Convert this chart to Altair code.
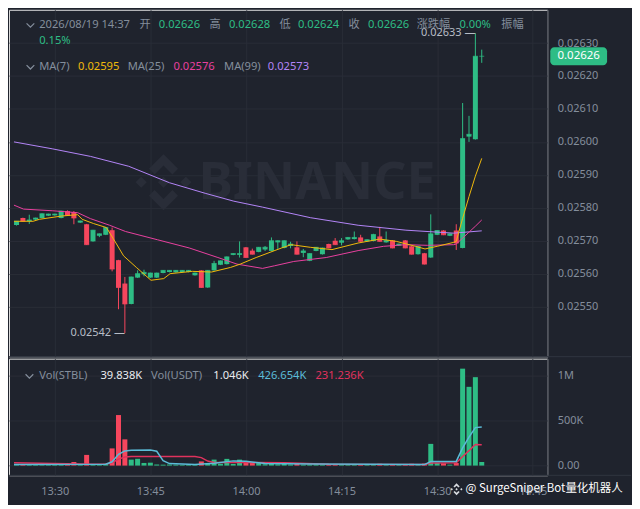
import altair as alt
import pandas as pd

# ---------------- data ----------------
times = ["13:24", "13:25", "13:26", "13:27", "13:28", "13:29", "13:30", "13:31", "13:32", "13:33",
         "13:34", "13:35", "13:36", "13:37", "13:38", "13:39", "13:40", "13:41", "13:42", "13:43",
         "13:44", "13:45", "13:46", "13:47", "13:48", "13:49", "13:50", "13:51", "13:52", "13:53",
         "13:54", "13:55", "13:56", "13:57", "13:58", "13:59", "14:00", "14:01", "14:02", "14:03",
         "14:04", "14:05", "14:06", "14:07", "14:08", "14:09", "14:10", "14:11", "14:12", "14:13",
         "14:14", "14:15", "14:16", "14:17", "14:18", "14:19", "14:20", "14:21", "14:22", "14:23",
         "14:24", "14:25", "14:26", "14:27", "14:28", "14:29", "14:30", "14:31", "14:32", "14:33",
         "14:34", "14:35", "14:36", "14:37"]

# prices in units of 1e-5
open_e5 = [2574.8, 2576.9, 2575.9, 2576.4, 2576.9, 2577.6, 2577.7, 2576.9, 2579.0, 2578.7,
           2575.5, 2575.0, 2569.8, 2571.5, 2571.8, 2573.2, 2564.1, 2557.0, 2550.8, 2558.8,
           2559.8, 2558.8, 2558.8, 2560.2, 2560.5, 2560.4, 2560.5, 2560.5, 2559.5, 2561.0,
           2555.8, 2561.0, 2562.7, 2562.9, 2565.7, 2565.7, 2568.0, 2567.0, 2566.6, 2567.3,
           2566.9, 2569.5, 2567.8, 2568.4, 2568.0, 2566.3, 2563.9, 2566.9, 2565.9, 2569.0,
           2570.0, 2569.4, 2570.4, 2570.5, 2571.0, 2569.8, 2569.9, 2571.3, 2569.5, 2570.1,
           2568.5, 2570.1, 2568.3, 2565.9, 2566.2, 2564.9, 2571.8, 2573.1, 2571.5, 2573.1,
           2567.8, 2601.6, 2600.8, 2626.0]
high_e5 = [2576.0, 2577.0, 2577.9, 2577.0, 2578.3, 2578.2, 2578.2, 2579.1, 2579.2, 2579.0,
           2576.1, 2575.1, 2573.3, 2572.2, 2574.1, 2574.0, 2564.2, 2559.0, 2559.1, 2561.0,
           2561.2, 2560.3, 2560.3, 2561.1, 2561.1, 2561.1, 2561.1, 2561.1, 2560.3, 2561.1,
           2561.1, 2563.9, 2564.0, 2565.2, 2566.2, 2569.8, 2568.1, 2567.6, 2568.1, 2568.4,
           2571.0, 2570.1, 2570.1, 2569.7, 2569.8, 2567.5, 2566.2, 2568.1, 2567.9, 2569.1,
           2570.8, 2570.8, 2571.1, 2572.8, 2571.8, 2570.4, 2572.1, 2574.2, 2572.8, 2570.2,
           2569.1, 2570.2, 2568.4, 2568.4, 2566.3, 2578.0, 2573.2, 2573.2, 2572.2, 2575.0,
           2611.8, 2607.9, 2633.0, 2628.0]
low_e5 = [2574.6, 2575.8, 2575.1, 2576.3, 2576.8, 2577.5, 2577.6, 2576.8, 2577.6, 2575.0,
          2575.4, 2568.7, 2569.7, 2571.1, 2571.7, 2560.7, 2549.2, 2542.0, 2550.7, 2558.7,
          2559.2, 2558.7, 2558.7, 2560.1, 2560.4, 2560.3, 2560.4, 2560.4, 2559.4, 2555.7,
          2555.7, 2560.9, 2562.6, 2562.8, 2565.6, 2564.9, 2564.8, 2565.8, 2566.5, 2566.9,
          2566.8, 2567.5, 2567.7, 2567.7, 2565.8, 2565.0, 2563.8, 2566.8, 2565.8, 2567.7,
          2568.7, 2568.6, 2570.3, 2570.4, 2569.7, 2569.7, 2569.8, 2569.7, 2569.4, 2567.7,
          2568.4, 2567.7, 2565.8, 2565.8, 2562.8, 2564.8, 2571.7, 2571.7, 2571.4, 2567.2,
          2567.7, 2600.0, 2600.7, 2624.0]
close_e5 = [2575.9, 2575.9, 2576.3, 2576.9, 2578.2, 2578.1, 2578.1, 2579.0, 2577.7, 2576.9,
            2576.0, 2568.8, 2573.2, 2572.1, 2574.0, 2561.4, 2555.8, 2550.8, 2559.0, 2560.0,
            2560.4, 2560.2, 2560.2, 2561.0, 2561.0, 2561.0, 2561.0, 2561.0, 2560.2, 2555.8,
            2561.0, 2563.1, 2563.9, 2565.1, 2566.1, 2566.1, 2564.9, 2565.9, 2568.0, 2568.0,
            2570.0, 2570.0, 2570.0, 2569.0, 2565.9, 2566.9, 2566.1, 2568.0, 2567.8, 2567.8,
            2568.8, 2570.0, 2571.0, 2571.0, 2569.8, 2570.3, 2571.9, 2569.8, 2570.1, 2567.8,
            2569.0, 2567.8, 2565.9, 2568.3, 2562.9, 2572.1, 2573.1, 2571.8, 2572.1, 2569.3,
            2601.0, 2602.3, 2626.0, 2626.0]
# volume in thousands (STBL)
vol_k = [12, 15, 10, 8, 12, 6, 8, 14, 12, 40,
         10, 118, 14, 12, 20, 190, 559, 290, 66, 75,
         29, 32, 12, 10, 12, 10, 8, 10, 8, 46,
         20, 66, 20, 74, 18, 66, 32, 28, 40, 15,
         30, 14, 18, 12, 20, 10, 12, 14, 10, 12,
         18, 10, 8, 10, 14, 8, 12, 20, 10, 14,
         8, 18, 20, 14, 22, 240, 30, 25, 10, 28,
         1072, 871, 978, 39.838]

# moving-average lines (minutes after 13:00, value)
ma7_t = [23.6, 26.6, 27.6, 31.1, 33.6, 34.3, 36.1, 38.1, 39.6, 40.8, 42.8, 45.1, 47.1, 48.1, 51.6,
         54.6, 57.6, 59.1, 61.6, 65.6, 67.1, 70.1, 73.5, 77.6, 81.0, 83.6, 86.6, 88.1, 90.0, 92.6,
         93, 94, 95, 96, 97]
ma7_e5 = [2575.9, 2575.9, 2576.5, 2577.5, 2577.9, 2576.5, 2575.2, 2574.0, 2569.3, 2565.4, 2561.9,
          2558.0, 2558.5, 2560.0, 2560.7, 2560.5, 2561.9, 2562.9, 2564.9, 2567.8, 2568.8, 2568.0,
          2567.3, 2569.3, 2570.5, 2569.8, 2568.3, 2567.5, 2568.3, 2569.5, 2569.8, 2576.8, 2583.4,
          2589.6, 2595.0]
ma25_t = [23.6, 25.1, 29.6, 33.6, 35.6, 38.6, 41.1, 46.1, 51.1, 55.6, 58.6, 62.6, 64.5, 67.5, 72.6,
          77.6, 81.6, 85.1, 88.5, 92.6, 93, 94, 95, 96, 97]
ma25_e5 = [2580.8, 2579.6, 2579.1, 2578.5, 2576.7, 2574.7, 2572.8, 2570.3, 2567.8, 2564.9, 2562.9,
           2561.6, 2562.4, 2563.7, 2564.9, 2567.0, 2568.3, 2568.8, 2568.6, 2568.8, 2569.0, 2570.8,
           2572.6, 2574.4, 2576.3]
ma99_t = [23.6, 29.6, 35.6, 41.6, 48.0, 53.6, 58.1, 62.6, 70.1, 77.6, 85.1, 92.6, 97]
ma99_e5 = [2600.0, 2597.9, 2595.6, 2592.6, 2587.6, 2584.4, 2582.0, 2580.2, 2577.0, 2574.7, 2573.2,
           2572.3, 2573.0]
vma7_t = [23.6, 38, 39, 40, 41, 42, 45, 46, 47, 48, 52, 55, 58, 60, 63, 70, 80, 88, 89, 93, 94, 95, 96, 97]
vma7_k = [11, 15, 42, 125, 162, 170, 172, 158, 55, 22, 11, 25, 52, 48, 22, 18, 14, 11, 45, 46, 195,
          315, 420, 426.654]
vma14_t = [23.6, 36, 38, 39, 40, 41, 42, 52, 53, 54, 55, 66, 73, 88, 89, 93, 94, 95, 96, 97]
vma14_k = [32, 14, 18, 32, 72, 95, 100, 100, 88, 50, 35, 32, 16, 11, 28, 30, 100, 165, 234, 231.236]

x_ticks = [30, 45, 60, 75, 90, 105]
price_ticks = [0.0255, 0.0256, 0.0257, 0.0258, 0.0259, 0.0260, 0.0261, 0.0262, 0.0263]
vol_ticks = [0, 500000, 1000000]

# ---------------- style ----------------
BG = "#1f232d"
GRID = "#292d37"
SEP = "#30353f"
AX = "#848e9c"
GREEN = "#2ebd85"
RED = "#f6465d"
WHITE = "#eaecef"
MA7C, MA25C, MA99C = "#f0b90b", "#e8409f", "#b385f7"
VMA7C, VMA14C = "#5bbcd8", "#e0325d"
WM = "#292d38"
FONT = "Noto Sans"
CJK = "Noto Sans CJK SC"

W, H1, H2 = 540, 348, 117


def tmin(s):
    h, m = s.split(":")
    return (int(h) - 13) * 60 + int(m)


candles = pd.DataFrame({
    "t": [tmin(s) for s in times],
    "open": [v / 1e5 for v in open_e5],
    "high": [v / 1e5 for v in high_e5],
    "low": [v / 1e5 for v in low_e5],
    "close": [v / 1e5 for v in close_e5],
    "vol": [v * 1000 for v in vol_k],
})
candles["dir"] = ["up" if c >= o else "down" for o, c in zip(open_e5, close_e5)]

ma_df = lambda ts, vs: pd.DataFrame({"t": ts, "v": [v / 1e5 for v in vs]})
vma_df = lambda ts, vs: pd.DataFrame({"t": ts, "v": [v * 1000 for v in vs]})

xsc = alt.Scale(domain=[23.6, 106.5], nice=False, zero=False)
psc = alt.Scale(domain=[0.025348, 0.026401], nice=False, zero=False)
vsc = alt.Scale(domain=[-107500, 1182500], nice=False, zero=False)
col = alt.Color("dir:N", scale=alt.Scale(domain=["up", "down"], range=[GREEN, RED]), legend=None)

x_top_axis = alt.Axis(values=x_ticks, labels=False, ticks=False, domain=True, domainColor=SEP,
                      grid=True, gridColor=GRID, minExtent=0, maxExtent=0)
x_bot_axis = alt.Axis(values=x_ticks, ticks=False, domain=True, domainColor=SEP, grid=True, gridColor=GRID,
                      labelColor=AX, labelFontSize=11, labelFont=FONT, labelPadding=10,
                      labelExpr="(13 + floor(datum.value / 60)) + ':' + (datum.value % 60 < 10 ? '0' : '') + (datum.value % 60)",
                      minExtent=28, maxExtent=28)
y_price_axis = alt.Axis(orient="right", values=price_ticks, format=".5f", labelColor=AX, labelFontSize=11,
                        labelFont=FONT, labelPadding=10, ticks=False, domain=True, domainColor=SEP,
                        grid=True, gridColor=GRID, minExtent=84, maxExtent=84)
y_vol_axis = alt.Axis(orient="right", values=vol_ticks, labelColor=AX, labelFontSize=11, labelFont=FONT,
                      labelPadding=10, ticks=False, domain=True, domainColor=SEP, grid=True, gridColor=GRID,
                      labelExpr="datum.value == 0 ? '0.00' : (datum.value >= 1000000 ? '1M' : '500K')",
                      minExtent=84, maxExtent=84)


def xt(field="t"):
    return alt.X(f"{field}:Q", scale=xsc, axis=x_top_axis, title=None)


def xb(field="t"):
    return alt.X(f"{field}:Q", scale=xsc, axis=x_bot_axis, title=None)


def yp(field):
    return alt.Y(f"{field}:Q", scale=psc, axis=y_price_axis, title=None)


def yv(field):
    return alt.Y(f"{field}:Q", scale=vsc, axis=y_vol_axis, title=None)


dummy = pd.DataFrame({"k": [0]})


def label(s, x, y, color, size=11.2, font=FONT, align="left", weight="normal"):
    return alt.Chart(dummy).mark_text(text=s, align=align, baseline="middle", color=color, fontSize=size,
                                      font=font, fontWeight=weight).encode(x=alt.value(x), y=alt.value(y))


def chevron(x, y):
    return alt.Chart(dummy).mark_point(shape="M-1,-0.5L0,0.5L1,-0.5", filled=False, size=60, stroke=AX,
                                       strokeWidth=1.2, opacity=1).encode(x=alt.value(x), y=alt.value(y))


LOGO = ("M0,-1L0.52,-0.48L0.32,-0.28L0,-0.6L-0.32,-0.28L-0.52,-0.48Z "
        "M0,1L0.52,0.48L0.32,0.28L0,0.6L-0.32,0.28L-0.52,0.48Z "
        "M-1,0L-0.8,-0.2L-0.6,0L-0.8,0.2Z M1,0L0.8,-0.2L0.6,0L0.8,0.2Z "
        "M0,-0.2L0.2,0L0,0.2L-0.2,0Z")


def logo(x, y, size, color):
    return alt.Chart(dummy).mark_point(shape=LOGO, filled=True, size=size, color=color, opacity=1,
                                       strokeWidth=0).encode(x=alt.value(x), y=alt.value(y))


TAG = ("M-0.86,-0.32L0.86,-0.32A0.14,0.14 0 0 1 1,-0.18L1,0.18A0.14,0.14 0 0 1 0.86,0.32"
       "L-0.86,0.32A0.14,0.14 0 0 1 -1,0.18L-1,-0.18A0.14,0.14 0 0 1 -0.86,-0.32Z")

# ---------------- price panel ----------------
base = alt.Chart(candles)
wicks = base.mark_rule(strokeWidth=1).encode(x=xt(), y=yp("low"), y2=alt.Y2("high:Q"), color=col)
bodies = base.mark_bar(size=5).encode(x=xt(), y=yp("open"), y2=alt.Y2("close:Q"), color=col)
flat = base.mark_tick(orient="horizontal", thickness=1, size=5).encode(x=xt(), y=yp("close"), color=col)

ma7 = alt.Chart(ma_df(ma7_t, ma7_e5)).mark_line(color=MA7C, strokeWidth=1).encode(x=xt(), y=yp("v"))
ma25 = alt.Chart(ma_df(ma25_t, ma25_e5)).mark_line(color=MA25C, strokeWidth=1).encode(x=xt(), y=yp("v"))
ma99 = alt.Chart(ma_df(ma99_t, ma99_e5)).mark_line(color=MA99C, strokeWidth=1).encode(x=xt(), y=yp("v"))

hi_i = high_e5.index(max(high_e5))
lo_i = low_e5.index(min(low_e5))
extremes = pd.DataFrame({
    "t": [tmin(times[hi_i]), tmin(times[lo_i])],
    "p": [high_e5[hi_i] / 1e5, low_e5[lo_i] / 1e5],
})
extremes["txt"] = [f"{p:.5f} —" for p in extremes["p"]]
ext_txt = alt.Chart(extremes).mark_text(align="right", baseline="middle", dx=0, color="#b7bdc6",
                                        fontSize=11, font=FONT).encode(x=xt(), y=yp("p"), text="txt:N")

last = pd.DataFrame({"p": [close_e5[-1] / 1e5]})
tag = alt.Chart(last).mark_point(shape=TAG, size=3249, filled=True, color=GREEN, opacity=1,
                                 strokeWidth=0).encode(x=alt.value(571.5), y=yp("p"))
tag_txt = alt.Chart(last).mark_text(color="white", fontSize=11.5, font=FONT, align="center",
                                    baseline="middle").encode(x=alt.value(571.5), y=yp("p"),
                                                               text=alt.Text("p:Q", format=".5f"))

sep_top = alt.Chart(dummy).mark_rule(color=SEP, strokeWidth=1).encode(
    x=alt.value(0), x2=alt.value(624), y=alt.value(H1))

wm_logo = logo(155, 173, 3136, WM)
wm_text = label("BINANCE", 190, 174, WM, size=52, weight="bold")

y1, y2, y3 = 15.6, 31.2, 57.5
header = [
    chevron(21.5, y1),
    label("2026/08/19 14:37", 30.3, y1, AX),
    label("开", 130.8, y1, AX, font=CJK),
    label("0.02626", 150.3, y1, GREEN),
    label("高", 201.1, y1, AX, font=CJK),
    label("0.02628", 220.6, y1, GREEN),
    label("低", 271.3, y1, AX, font=CJK),
    label("0.02624", 289.9, y1, GREEN),
    label("收", 340.6, y1, AX, font=CJK),
    label("0.02626", 360.1, y1, GREEN),
    label("涨跌幅", 409.0, y1, AX, font=CJK),
    label("0.00%", 451.9, y1, GREEN),
    label("振幅", 493.9, y1, AX, font=CJK),
    label("0.15%", 30.3, y2, GREEN),
    chevron(21.5, y3),
    label("MA(7)", 30.3, y3, AX),
    label("0.02595", 69.3, y3, MA7C),
    label("MA(25)", 119.1, y3, AX),
    label("0.02576", 165.0, y3, MA25C),
    label("MA(99)", 215.7, y3, AX),
    label("0.02573", 259.6, y3, MA99C),
]

top = alt.layer(
    wm_logo, wm_text, wicks, bodies, flat, ma99, ma25, ma7, ext_txt, tag, tag_txt, sep_top, *header
).properties(width=W, height=H1)

# ---------------- volume panel ----------------
vbars = base.mark_bar(size=5).encode(x=xb(), y=yv("vol"), y2=alt.datum(0), color=col)
vma7 = alt.Chart(vma_df(vma7_t, vma7_k)).mark_line(color=VMA7C, strokeWidth=1.5).encode(x=xb(), y=yv("v"))
vma14 = alt.Chart(vma_df(vma14_t, vma14_k)).mark_line(color=VMA14C, strokeWidth=1.5).encode(x=xb(), y=yv("v"))
sep_bot = alt.Chart(dummy).mark_rule(color=SEP, strokeWidth=1).encode(
    x=alt.value(0), x2=alt.value(624), y=alt.value(H2))

vy = 17.6
vheader = [
    chevron(20.5, vy),
    label("Vol(STBL)", 30.3, vy, AX),
    label("39.838K", 91.7, vy, WHITE),
    label("Vol(USDT)", 142.5, vy, AX),
    label("1.046K", 205.0, vy, WHITE),
    label("426.654K", 250.0, vy, VMA7C),
    label("231.236K", 307.4, vy, VMA14C),
]
credit = [
    logo(449, 131, 144, "#d8dbe0"),
    label("@ SurgeSniper Bot量化机器人", 458, 131, "#ffffff", size=11.5, font=CJK),
]

bottom = alt.layer(vbars, vma14, vma7, sep_bot, *vheader, *credit).properties(width=W, height=H2)

chart = alt.vconcat(top, bottom, spacing=0).properties(
    background=BG, padding=0
).configure_view(strokeWidth=0).configure(font=FONT)

chart.save("out.html", embed_options={"renderer": "svg", "actions": False})
